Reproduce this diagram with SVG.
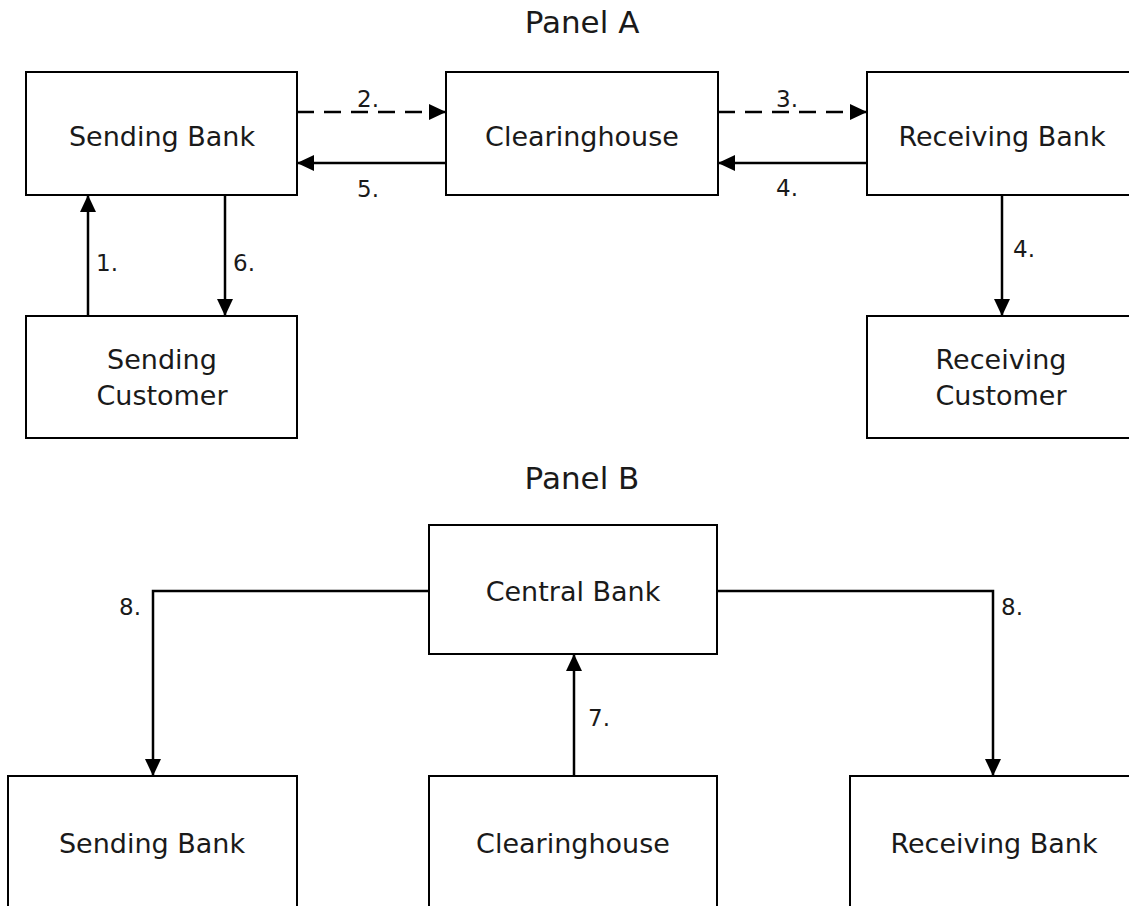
<svg xmlns="http://www.w3.org/2000/svg" width="1129" height="906" viewBox="0 0 1129 906">
  <style>
    .box { fill: #ffffff; stroke: #000000; stroke-width: 2; }
    .lbl { font-family: "DejaVu Sans", "Liberation Sans", sans-serif; font-size: 27px; fill: #1a1a1a; text-anchor: middle; }
    .title { font-family: "DejaVu Sans", "Liberation Sans", sans-serif; font-size: 31px; fill: #1a1a1a; text-anchor: middle; }
    .num { font-family: "DejaVu Sans", "Liberation Sans", sans-serif; font-size: 23px; fill: #1a1a1a; text-anchor: middle; }
    .line { fill: none; stroke: #000000; stroke-width: 2.5; }
    .dash { stroke-dasharray: 17 10; }
  </style>
  <defs>
    <marker id="arrow" viewBox="0 0 17 16" refX="17" refY="8" markerWidth="17" markerHeight="16" markerUnits="userSpaceOnUse" orient="auto">
      <path d="M0,0 L17,8 L0,16 Z" fill="#000000"/>
    </marker>
  </defs>
  <rect width="1129" height="906" fill="#ffffff"/>

  <text class="title" x="582" y="33">Panel A</text>
  <text class="title" x="582" y="489">Panel B</text>

  <g id="a-sending-bank">
    <rect class="box" x="26" y="72" width="271" height="123"/>
    <text class="lbl" x="162" y="146">Sending Bank</text>
  </g>
  <g id="a-clearinghouse">
    <rect class="box" x="446" y="72" width="272" height="123"/>
    <text class="lbl" x="582" y="146">Clearinghouse</text>
  </g>
  <g id="a-receiving-bank">
    <rect class="box" x="867" y="72" width="271" height="123"/>
    <text class="lbl" x="1002" y="146">Receiving Bank</text>
  </g>
  <g id="a-sending-customer">
    <rect class="box" x="26" y="316" width="271" height="122"/>
    <text class="lbl" x="162" y="369">Sending</text>
    <text class="lbl" x="162" y="405">Customer</text>
  </g>
  <g id="a-receiving-customer">
    <rect class="box" x="867" y="316" width="271" height="122"/>
    <text class="lbl" x="1001" y="369">Receiving</text>
    <text class="lbl" x="1001" y="405">Customer</text>
  </g>

  <g id="b-central-bank">
    <rect class="box" x="429" y="525" width="288" height="129"/>
    <text class="lbl" x="573" y="601">Central Bank</text>
  </g>
  <g id="b-sending-bank">
    <rect class="box" x="8" y="776" width="289" height="140"/>
    <text class="lbl" x="152" y="853">Sending Bank</text>
  </g>
  <g id="b-clearinghouse">
    <rect class="box" x="429" y="776" width="288" height="140"/>
    <text class="lbl" x="573" y="853">Clearinghouse</text>
  </g>
  <g id="b-receiving-bank">
    <rect class="box" x="850" y="776" width="289" height="140"/>
    <text class="lbl" x="994" y="853">Receiving Bank</text>
  </g>

  <g id="connectors">
    <line class="line dash" x1="297" y1="112" x2="446" y2="112" marker-end="url(#arrow)"/>
    <line class="line" x1="446" y1="163" x2="297" y2="163" marker-end="url(#arrow)"/>
    <line class="line dash" x1="718" y1="112" x2="867" y2="112" marker-end="url(#arrow)"/>
    <line class="line" x1="867" y1="163" x2="718" y2="163" marker-end="url(#arrow)"/>
    <line class="line" x1="88" y1="316" x2="88" y2="195" marker-end="url(#arrow)"/>
    <line class="line" x1="225" y1="195" x2="225" y2="316" marker-end="url(#arrow)"/>
    <line class="line" x1="1002" y1="195" x2="1002" y2="316" marker-end="url(#arrow)"/>
    <polyline class="line" points="429,591 153,591 153,776" marker-end="url(#arrow)"/>
    <polyline class="line" points="717,591 993,591 993,776" marker-end="url(#arrow)"/>
    <line class="line" x1="574" y1="776" x2="574" y2="654" marker-end="url(#arrow)"/>

    <text class="num" x="368" y="107">2.</text>
    <text class="num" x="368" y="197">5.</text>
    <text class="num" x="787" y="107">3.</text>
    <text class="num" x="787" y="196">4.</text>
    <text class="num" x="107" y="271">1.</text>
    <text class="num" x="244" y="271">6.</text>
    <text class="num" x="1024" y="257">4.</text>
    <text class="num" x="130" y="615">8.</text>
    <text class="num" x="1012" y="615">8.</text>
    <text class="num" x="599" y="726">7.</text>
  </g>
</svg>
